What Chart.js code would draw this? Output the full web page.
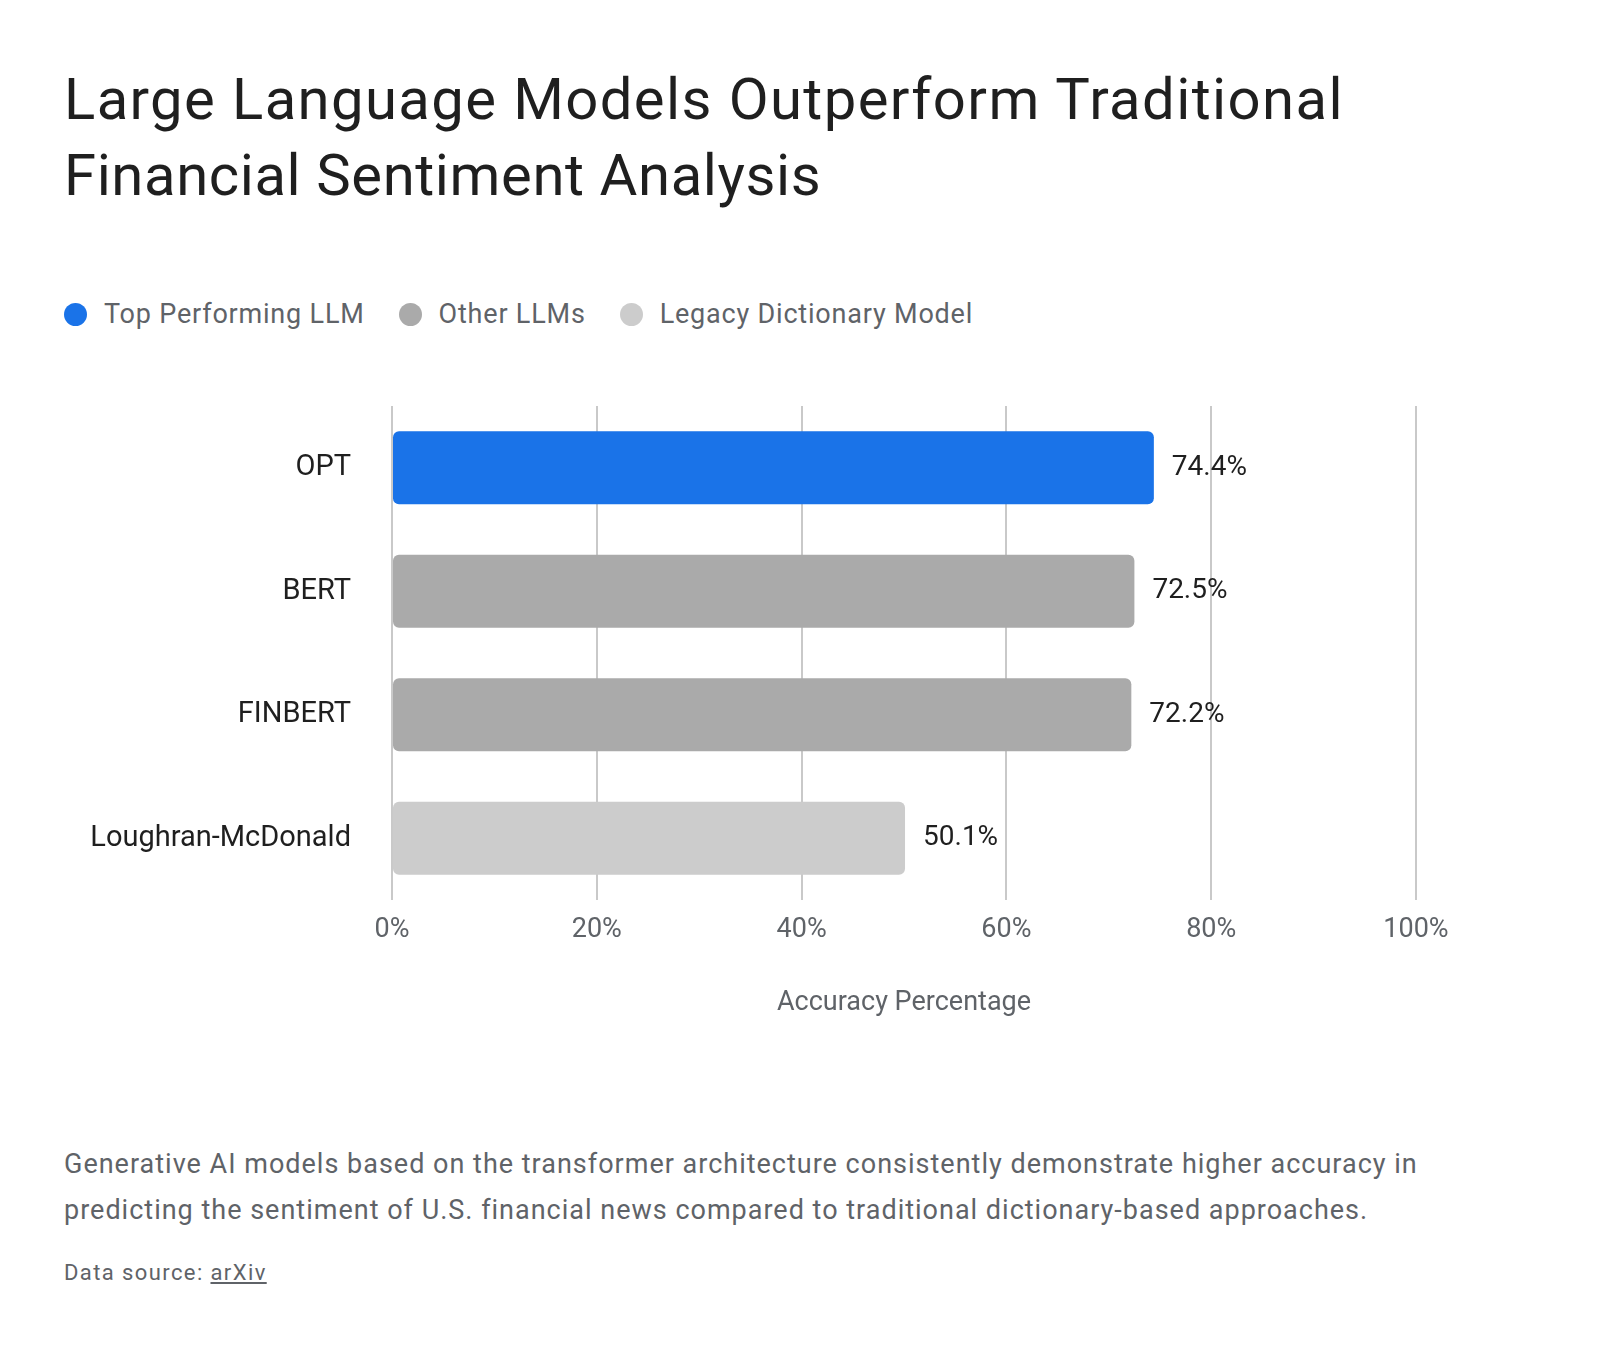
<!DOCTYPE html>
<html>
<head>
<meta charset="utf-8">
<script src="https://cdn.jsdelivr.net/npm/chart.js@4.4.1/dist/chart.umd.min.js"></script>
<style>
  html, body { margin: 0; padding: 0; background: #fff; }
  body { width: 1600px; height: 1354px; position: relative; font-family: Roboto, "Noto Sans", sans-serif; overflow: hidden; }
  #title { position: absolute; left: 64px; top: 61px; font-size: 58px; line-height: 76px; color: #1f1f1f; font-weight: 400; letter-spacing: 1.4px; white-space: nowrap; }
  #title .l2 { letter-spacing: 0.6px; }
  #legend { position: absolute; left: 64px; top: 294px; height: 40px; display: flex; align-items: center; font-size: 27px; letter-spacing: 0.8px; color: #5f6368; }
  .item { display: flex; align-items: center; margin-right: 34px; }
  .dot { width: 23px; height: 23px; border-radius: 50%; margin-right: 17px; }
  #chart { position: absolute; left: 0; top: 380px; }
  #note { position: absolute; left: 64px; top: 1141px; font-size: 27px; line-height: 46px; letter-spacing: 1px; color: #5f6368; white-space: nowrap; }
  #source { position: absolute; left: 64px; top: 1259px; font-size: 22px; line-height: 28px; letter-spacing: 1.4px; color: #5f6368; }
  #source span { text-decoration: underline; }
</style>
</head>
<body>
<div id="title">Large Language Models Outperform Traditional<br><span class="l2">Financial Sentiment Analysis</span></div>
<div id="legend"></div>
<canvas id="chart" width="1600" height="660"></canvas>
<div id="note">Generative AI models based on the transformer architecture consistently demonstrate higher accuracy in<br>predicting the sentiment of U.S. financial news compared to traditional dictionary-based approaches.</div>
<div id="source">Data source: <span>arXiv</span></div>
<script>
const categories = ['OPT', 'BERT', 'FINBERT', 'Loughran-McDonald'];
const accuracy = [74.4, 72.5, 72.2, 50.1];
const groupOf = [0, 1, 1, 2];
const groupNames = ['Top Performing LLM', 'Other LLMs', 'Legacy Dictionary Model'];
const groupColors = ['#1a73e8', '#aaaaaa', '#cccccc'];
const xTicks = [0, 20, 40, 60, 80, 100];

// legend
const legendEl = document.getElementById('legend');
groupNames.forEach((name, i) => {
    const item = document.createElement('div');
    item.className = 'item';
    const dot = document.createElement('span');
    dot.className = 'dot';
    dot.style.background = groupColors[i];
    item.appendChild(dot);
    item.appendChild(document.createTextNode(name));
    legendEl.appendChild(item);
});

const valueLabels = {
    id: 'valueLabels',
    afterDatasetsDraw(chart) {
        const { ctx } = chart;
        const meta = chart.getDatasetMeta(0);
        ctx.save();
        ctx.font = '28px Roboto';
        ctx.fillStyle = '#1f1f1f';
        ctx.textAlign = 'left';
        ctx.textBaseline = 'middle';
        meta.data.forEach((bar, i) => {
            ctx.fillText(accuracy[i].toFixed(1) + '%', bar.x + 18, bar.y);
        });
        ctx.restore();
    },
};

Chart.defaults.font.family = 'Roboto';

new Chart(document.getElementById('chart').getContext('2d'), {
    type: 'bar',
    data: {
        labels: categories,
        datasets: [{
            data: accuracy,
            backgroundColor: groupOf.map((g) => groupColors[g]),
            borderRadius: 6,
            borderSkipped: false,
            categoryPercentage: 1,
            barPercentage: 0.59,
        }],
    },
    options: {
        indexAxis: 'y',
        responsive: false,
        animation: false,
        layout: { padding: { top: 26, right: 184, left: 0, bottom: 0 } },
        plugins: { legend: { display: false }, tooltip: { enabled: false } },
        scales: {
            x: {
                min: 0,
                max: 100,
                afterBuildTicks: (s) => { s.ticks = xTicks.map((v) => ({ value: v })); },
                afterFit: (s) => { s.height = 140; },
                grid: { color: '#c9c9c9', lineWidth: 2, drawTicks: false },
                border: { display: false },
                ticks: { color: '#5f6368', font: { size: 27 }, padding: 14, callback: (v) => v + '%' },
                title: { display: true, text: 'Accuracy Percentage', color: '#5f6368', font: { size: 27 }, padding: { top: 0, bottom: 21 } },
            },
            y: {
                afterFit: (s) => {
                    s.width = 392;
                    // labels sit mid-category, no extra room needed above/below
                    s.paddingTop = 0;
                    s.paddingBottom = 0;
                },
                grid: { display: false, drawTicks: false },
                border: { display: false },
                ticks: { color: '#1f1f1f', font: { size: 29 }, padding: 41 },
            },
        },
    },
    plugins: [valueLabels],
});
</script>
</body>
</html>
